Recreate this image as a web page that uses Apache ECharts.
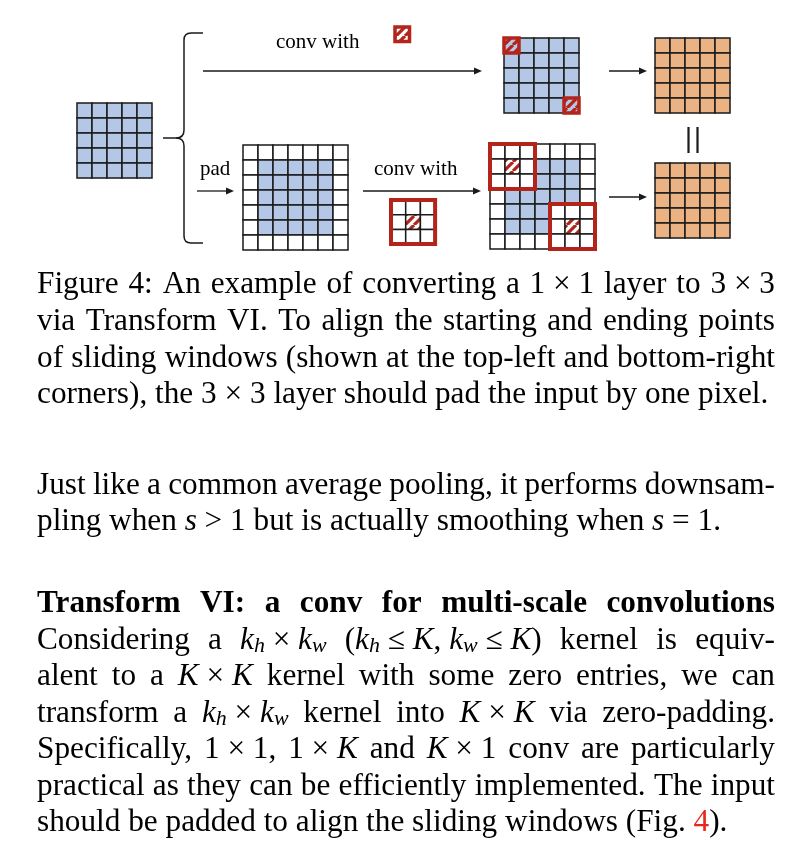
<!DOCTYPE html>
<html><head><meta charset="utf-8">
<script src="https://cdn.jsdelivr.net/npm/echarts@6/dist/echarts.min.js"></script>
<style>html,body{margin:0;padding:0;background:#fff}#c{width:808px;height:862px}</style>
</head><body><div id="c"></div>
<script>
// ================= DATA =================
// cell kinds: 0 = white (zero pad), 1 = blue (input), 2 = orange (output)
const INPUT_CELLS = [
  [1,1,1,1,1],
  [1,1,1,1,1],
  [1,1,1,1,1],
  [1,1,1,1,1],
  [1,1,1,1,1]
];
const PADDED_CELLS = [
  [0,0,0,0,0,0,0],
  [0,1,1,1,1,1,0],
  [0,1,1,1,1,1,0],
  [0,1,1,1,1,1,0],
  [0,1,1,1,1,1,0],
  [0,1,1,1,1,1,0],
  [0,0,0,0,0,0,0]
];
const OUTPUT_CELLS = [
  [2,2,2,2,2],
  [2,2,2,2,2],
  [2,2,2,2,2],
  [2,2,2,2,2],
  [2,2,2,2,2]
];
const KERNEL_1x1_CELLS = [[0]];
const KERNEL_3x3_CELLS = [[0,0,0],[0,0,0],[0,0,0]];
// sliding window positions (top-left col,row): start and end
const WINDOWS_1x1 = [[0,0],[4,4]];
const WINDOWS_3x3 = [[0,0],[4,4]];
const LABEL_CONV = 'conv with';
const LABEL_PAD = 'pad';
// text markup: {i:x} italic, {s:x} subscript, {r:x} red, ~ fixed space
const CAPTION_LINES = [
  'Figure 4: An example of converting a 1~×~1 layer to 3~×~3',
  'via Transform VI. To align the starting and ending points',
  'of sliding windows (shown at the top-left and bottom-right',
  'corners), the 3~×~3 layer should pad the input by one pixel.'
];
const PARA2_LINES = [
  'Just like a common average pooling, it performs downsam-',
  'pling when {i:s}~>~1 but is actually smoothing when {i:s}~=~1.'
];
const HEADING_LINE = 'Transform VI: a conv for multi-scale convolutions';
const PARA3_LINES = [
  'Considering a {i:k}{s:h}~×~{i:k}{s:w} ({i:k}{s:h}~≤~{i:K},~{i:k}{s:w}~≤~{i:K}) kernel is equiv-',
  'alent to a {i:K}~×~{i:K} kernel with some zero entries, we can',
  'transform a {i:k}{s:h}~×~{i:k}{s:w} kernel into {i:K}~×~{i:K} via zero-padding.',
  'Specifically, 1~×~1, 1~×~{i:K} and {i:K}~×~1 conv are particularly',
  'practical as they can be efficiently implemented. The input',
  'should be padded to align the sliding windows (Fig. {r:4}).'
];

// ================= STYLE / LAYOUT =================
const BLUE = '#b4c7e7', ORANGE = '#ebb383', WHITE = '#ffffff', RED = '#b3241a', LINK = '#e8261e';
const INK = '#1a1a1a';
const FILLS = [WHITE, BLUE, ORANGE];
const SERIF = '"Liberation Serif", "Times New Roman", serif';

function makeHatch(bg) {
  const s = 9, c = document.createElement('canvas');
  c.width = s; c.height = s;
  const g = c.getContext('2d');
  g.fillStyle = bg; g.fillRect(0, 0, s, s);
  g.strokeStyle = RED; g.lineWidth = 3.2;
  g.beginPath();
  for (let k = -1; k <= 1; k++) { g.moveTo(k * s, s); g.lineTo(k * s + s, 0); }
  g.stroke();
  return { image: c, repeat: 'repeat' };
}
const HATCH = [makeHatch(WHITE), makeHatch(BLUE)];

const BLOCKS = [
  { cells: INPUT_CELLS, left: 77, top: 103, cell: 15 },
  { cells: INPUT_CELLS, left: 504, top: 38, cell: 15, windows: WINDOWS_1x1, k: 1, frame: 3.5 },
  { cells: OUTPUT_CELLS, left: 655, top: 38, cell: 15 },
  { cells: PADDED_CELLS, left: 243, top: 145, cell: 15 },
  { cells: PADDED_CELLS, left: 490, top: 144, cell: 15, windows: WINDOWS_3x3, k: 3, frame: 4 },
  { cells: OUTPUT_CELLS, left: 655, top: 163, cell: 15 },
  { cells: KERNEL_3x3_CELLS, left: 391, top: 200, cell: 14.7, windows: [[0,0]], k: 3, frame: 4 },
  { cells: KERNEL_1x1_CELLS, left: 395, top: 27, cell: 14.5, windows: [[0,0]], k: 1, frame: 3.5 }
];

function toTriples(m) {
  const out = [];
  m.forEach((row, r) => row.forEach((v, c) => out.push([c, r, v])));
  return out;
}

const grids = [], xAxes = [], yAxes = [], series = [];
BLOCKS.forEach((b, i) => {
  const n = b.cells.length;
  grids.push({ left: b.left, top: b.top, width: n * b.cell, height: n * b.cell, show: false });
  xAxes.push({ gridIndex: i, type: 'value', min: 0, max: n, show: false });
  yAxes.push({ gridIndex: i, type: 'value', min: 0, max: n, inverse: true, show: false });
  series.push({
    type: 'custom', xAxisIndex: i, yAxisIndex: i, clip: false, silent: true,
    data: toTriples(b.cells),
    renderItem: function (params, api) {
      const c = api.value(0), r = api.value(1), v = api.value(2);
      const p0 = api.coord([c, r]), p1 = api.coord([c + 1, r + 1]);
      return { type: 'rect', shape: { x: p0[0], y: p0[1], width: p1[0] - p0[0], height: p1[1] - p0[1] },
        style: { fill: FILLS[v], stroke: INK, lineWidth: 1.5 } };
    }
  });
  if (b.windows) {
    series.push({
      type: 'custom', xAxisIndex: i, yAxisIndex: i, clip: false, silent: true, z: 3,
      data: b.windows.map(w => [w[0], w[1], b.k, b.cells[w[1]][w[0]]]),
      renderItem: function (params, api) {
        const c = api.value(0), r = api.value(1), k = api.value(2), bg = api.value(3);
        const children = [];
        const mid = Math.floor(k / 2);
        for (let dr = 0; dr < k; dr++) for (let dc = 0; dc < k; dc++) {
          const p0 = api.coord([c + dc, r + dr]), p1 = api.coord([c + dc + 1, r + dr + 1]);
          const centre = dr === mid && dc === mid;
          const fill = centre ? (k === 1 ? HATCH[bg === 1 ? 1 : 0] : HATCH[0]) : WHITE;
          children.push({ type: 'rect', shape: { x: p0[0], y: p0[1], width: p1[0] - p0[0], height: p1[1] - p0[1] },
            style: { fill: fill, stroke: k === 1 ? null : INK, lineWidth: 1.5 } });
        }
        const q0 = api.coord([c, r]), q1 = api.coord([c + k, r + k]);
        children.push({ type: 'rect', shape: { x: q0[0], y: q0[1], width: q1[0] - q0[0], height: q1[1] - q0[1] },
          style: { fill: null, stroke: RED, lineWidth: b.frame } });
        return { type: 'group', children: children };
      }
    });
  }
});

// ================= TEXT LAYOUT =================
const TEXT_L = 37, TEXT_W = 738;
const CAPTION_BASE = [290.3, 326.9, 363.5, 400.1];
const PARA2_BASE = [490.8, 527.4];
const HEADING_BASE = 609.3;
const PARA3_BASE = [645.5, 682, 718.5, 755, 791.7, 828.3];
const BASE_FIX = 0.17; // em, empirical correction of middle-baseline placement

const mctx = document.createElement('canvas').getContext('2d');
function fontOf(k, fs, bold) {
  if (k === 'i') return 'italic ' + fs.toFixed(2) + 'px ' + SERIF;
  if (k === 's') return 'italic ' + (fs * 0.7).toFixed(2) + 'px ' + SERIF;
  return (bold ? 'bold ' : '') + fs.toFixed(2) + 'px ' + SERIF;
}
function midOffset(font, fs) {
  mctx.font = font; mctx.textBaseline = 'alphabetic';
  const m = mctx.measureText('Hg');
  let off = fs * 0.34;
  if (m.fontBoundingBoxAscent !== undefined) off = (m.fontBoundingBoxAscent - m.fontBoundingBoxDescent) / 2;
  return off - BASE_FIX * fs;
}
function parseWord(w) {
  const runs = []; const re = /\{([isr]):([^}]*)\}|~|[^{~]+/g; let m;
  while ((m = re.exec(w))) {
    if (m[1]) runs.push({ k: m[1], t: m[2] });
    else if (m[0] === '~') runs.push({ k: 'n', t: ' ' });
    else runs.push({ k: 'n', t: m[0] });
  }
  return runs;
}
function measureLine(str, fs, bold) {
  const words = str.split(' ').map(parseWord);
  let total = 0;
  words.forEach(w => { w.width = 0; w.forEach(run => {
    run.font = fontOf(run.k, fs, bold); mctx.font = run.font;
    run.w = mctx.measureText(run.t).width; w.width += run.w; }); total += w.width; });
  return { words, total };
}
function naturalWidth(str, fs) {
  const m = measureLine(str, fs, false);
  mctx.font = fontOf('n', fs, false);
  return m.total + (m.words.length - 1) * mctx.measureText(' ').width;
}
const FS = 30 * ((734 / naturalWidth(CAPTION_LINES[3], 30)) + (688 / naturalWidth(PARA3_LINES[5], 30))) / 2;

const textEls = [];
function layoutLine(str, baseline, justify, bold) {
  const m = measureLine(str, FS, bold);
  mctx.font = fontOf('n', FS, bold);
  const space = mctx.measureText(' ').width;
  let gap = space;
  if (justify && m.words.length > 1) gap = Math.max(space * 0.6, (TEXT_W - m.total) / (m.words.length - 1));
  let x = TEXT_L;
  m.words.forEach(w => {
    w.forEach(run => {
      if (run.t.trim() !== '') {
        const fsz = run.k === 's' ? FS * 0.7 : FS;
        const dy = run.k === 's' ? FS * 0.16 : 0;
        textEls.push({ type: 'text', x: x, y: baseline + dy - midOffset(run.font, fsz), silent: true,
          style: { text: run.t, font: run.font, fill: run.k === 'r' ? LINK : '#000', textAlign: 'left', verticalAlign: 'middle' } });
      }
      x += run.w;
    });
    x += gap;
  });
}
CAPTION_LINES.forEach((l, i) => layoutLine(l, CAPTION_BASE[i], i < CAPTION_LINES.length - 1, false));
PARA2_LINES.forEach((l, i) => layoutLine(l, PARA2_BASE[i], i < PARA2_LINES.length - 1, false));
layoutLine(HEADING_LINE, HEADING_BASE, true, true);
PARA3_LINES.forEach((l, i) => layoutLine(l, PARA3_BASE[i], i < PARA3_LINES.length - 1, false));

// ================= DIAGRAM DECORATION =================
const LFS = 21;
function label(text, x, base) {
  const f = LFS + 'px ' + SERIF;
  return { type: 'text', x: x, y: base - midOffset(f, LFS), silent: true,
    style: { text: text, font: f, fill: '#000', textAlign: 'left', verticalAlign: 'middle' } };
}
function arrow(x1, y, x2) {
  return [
    { type: 'line', silent: true, shape: { x1: x1, y1: y, x2: x2 - 5, y2: y }, style: { stroke: INK, lineWidth: 1.3 } },
    { type: 'polygon', silent: true, shape: { points: [[x2, y], [x2 - 8, y - 3.6], [x2 - 8, y + 3.6]] }, style: { fill: INK } }
  ];
}
function seg(x1, y1, x2, y2, w) {
  return { type: 'line', silent: true, shape: { x1: x1, y1: y1, x2: x2, y2: y2 }, style: { stroke: INK, lineWidth: w || 1.5 } };
}
function curve(x1, y1, cx, cy, x2, y2) {
  return { type: 'bezierCurve', silent: true, shape: { x1: x1, y1: y1, cpx1: cx, cpy1: cy, x2: x2, y2: y2 },
    style: { stroke: INK, lineWidth: 1.5, fill: null } };
}
const brace = [
  seg(203, 33, 191, 33), curve(191, 33, 184, 33, 184, 40), seg(184, 40, 184, 130),
  curve(184, 130, 184, 138, 176, 138), seg(176, 138, 163, 138),
  curve(176, 138, 184, 138, 184, 146), seg(184, 146, 184, 236),
  curve(184, 236, 184, 243, 191, 243), seg(191, 243, 203, 243)
];
const deco = [].concat(
  arrow(203, 71, 482), arrow(609, 71, 647), arrow(197, 191, 234), arrow(363, 191, 481), arrow(609, 197, 647),
  brace,
  [
    seg(688.5, 127, 688.5, 153, 2.2),
    seg(697.5, 127, 697.5, 153, 2.2),
    label(LABEL_CONV, 276, 45.7),
    label(LABEL_CONV, 374, 172.7),
    label(LABEL_PAD, 200, 172.7)
  ]
);

const chart = echarts.init(document.getElementById('c'), null, { renderer: 'canvas' });
chart.setOption({
  backgroundColor: '#ffffff',
  animation: false,
  grid: grids, xAxis: xAxes, yAxis: yAxes, series: series,
  graphic: { elements: deco.concat(textEls) }
});
</script></body></html>
